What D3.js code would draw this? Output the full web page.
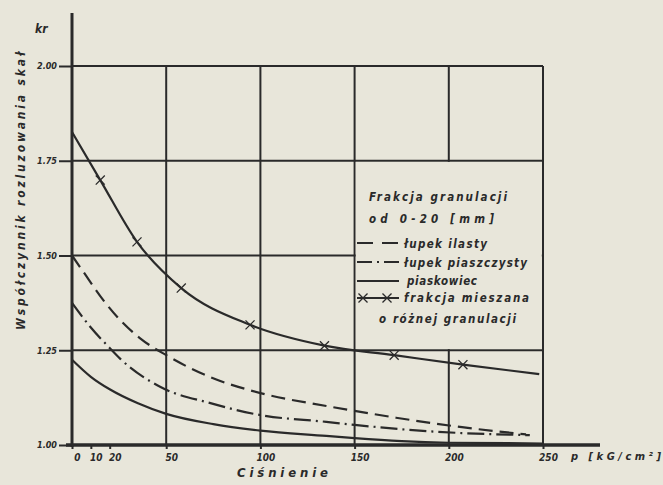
<!DOCTYPE html>
<html>
<head>
<meta charset="utf-8">
<script src="https://cdn.jsdelivr.net/npm/d3@7"></script>
<style>
  html, body { margin: 0; padding: 0; background: #e8e6da; }
  svg { display: block; }
  text { font-family: "DejaVu Sans Condensed", "DejaVu Sans", sans-serif; font-style: italic; font-weight: bold; fill: #2a2a2a; }
</style>
</head>
<body>
<div id="chart"></div>
<script>
// Values (pressure p in kG/cm2, coefficient kr)
const xTicks = [0, 10, 20, 50, 100, 150, 200, 250];
const xTickLabels = ['0', '10', '20', '50', '100', '150', '200', '250'];
const yTicks = [1.00, 1.25, 1.50, 1.75, 2.00];
const yTickLabels = ['1.00', '1.25', '1.50', '1.75', '2.00'];

// łupek ilasty (dashed)
const ilastyP = [0, 7, 16.5, 25.5, 36, 50, 73, 100, 135, 150, 172, 207, 241];
const ilastyK = [1.50, 1.45, 1.383, 1.33, 1.282, 1.237, 1.18, 1.137, 1.103, 1.090, 1.072, 1.047, 1.028];

// łupek piaszczysty (dash-dot)
const piaszczystyP = [0, 10, 20, 25.5, 47, 73, 100, 135, 150, 190, 243];
const piaszczystyK = [1.375, 1.31, 1.256, 1.228, 1.153, 1.111, 1.079, 1.061, 1.053, 1.036, 1.026];

// piaskowiec (solid)
const piaskowiecP = [0, 10, 20, 35, 50, 75, 100, 135, 150, 175, 200, 250];
const piaskowiecK = [1.225, 1.18, 1.147, 1.11, 1.082, 1.055, 1.038, 1.024, 1.018, 1.010, 1.006, 1.004];

// frakcja mieszana (solid with x marks), marks on inner points
const mieszanaP = [0, 15, 34.5, 58, 94.5, 134, 171, 207.5, 248];
const mieszanaK = [1.826, 1.699, 1.536, 1.414, 1.317, 1.262, 1.237, 1.212, 1.187];

const W = 663, H = 485;
const ink = '#2a2a2a';
const paper = '#e8e6da';

const svg = d3.select('#chart').append('svg')
    .attr('width', W)
    .attr('height', H);

svg.append('rect').attr('width', W).attr('height', H).attr('fill', paper);

const x = d3.scaleLinear().domain([0, 250]).range([72, 543]);
const y = d3.scaleLinear().domain([1, 2]).range([445, 66]);

// grid
const grid = svg.append('g').attr('stroke', ink).attr('stroke-width', 2);
[50, 100, 150, 200, 250].forEach(p => {
    grid.append('line')
        .attr('x1', x(p)).attr('x2', x(p))
        .attr('y1', y(1)).attr('y2', y(2));
});
[1.25, 1.5, 1.75, 2.0].forEach(k => {
    grid.append('line')
        .attr('x1', x(0)).attr('x2', x(250))
        .attr('y1', y(k)).attr('y2', y(k));
});

// legend panel hides the grid inside it
svg.append('rect')
    .attr('x', x(150) + 1.2).attr('y', y(1.75) + 1.2)
    .attr('width', x(250) - x(150) - 2.4)
    .attr('height', y(1.25) - y(1.75) - 2.4)
    .attr('fill', paper);

// axes
const xAxis = svg.append('g')
    .attr('transform', `translate(0,${y(1)})`)
    .call(d3.axisBottom(x).tickValues(xTicks)
        .tickFormat((d, i) => xTickLabels[i])
        .tickSize(4).tickPadding(5).tickSizeOuter(0));
xAxis.select('.domain').remove();
xAxis.selectAll('line').attr('stroke', ink).attr('stroke-width', 2);
xAxis.selectAll('text')
    .attr('dx', 5)
    .style('font-size', '10px')
    .attr('fill', ink);

const yAxis = svg.append('g')
    .attr('transform', `translate(${x(0)},0)`)
    .call(d3.axisLeft(y).tickValues(yTicks)
        .tickFormat((d, i) => yTickLabels[i])
        .tickSize(13).tickPadding(2).tickSizeOuter(0));
yAxis.select('.domain').remove();
yAxis.selectAll('line').attr('stroke', ink).attr('stroke-width', 2);
yAxis.selectAll('text')
    .style('font-size', '9px')
    .attr('fill', ink);

svg.append('line')
    .attr('x1', 66).attr('x2', 600)
    .attr('y1', y(1)).attr('y2', y(1))
    .attr('stroke', ink).attr('stroke-width', 3.5);
svg.append('line')
    .attr('x1', x(0)).attr('x2', x(0))
    .attr('y1', 13).attr('y2', y(1) + 2)
    .attr('stroke', ink).attr('stroke-width', 3);

// curves
const line = d3.line()
    .x(d => x(d[0]))
    .y(d => y(d[1]))
    .curve(d3.curveMonotoneX);

const zip = (ps, ks) => ps.map((p, i) => [p, ks[i]]);

const series = [
    { data: zip(ilastyP, ilastyK), dash: '14,7' },
    { data: zip(piaszczystyP, piaszczystyK), dash: '17,5,2,5' },
    { data: zip(piaskowiecP, piaskowiecK), dash: null },
    { data: zip(mieszanaP, mieszanaK), dash: null }
];

series.forEach(s => {
    svg.append('path')
        .datum(s.data)
        .attr('fill', 'none')
        .attr('stroke', ink)
        .attr('stroke-width', 2.2)
        .attr('stroke-dasharray', s.dash)
        .attr('d', line);
});

const cross = d3.symbol().type(d3.symbolTimes).size(55);
svg.selectAll('.mark')
    .data(zip(mieszanaP, mieszanaK).slice(1, -1))
    .enter()
    .append('path')
    .attr('class', 'mark')
    .attr('transform', d => `translate(${x(d[0])},${y(d[1])})`)
    .attr('d', cross)
    .attr('fill', ink)
    .attr('stroke', ink)
    .attr('stroke-width', 1.3);

// axis titles
svg.append('text')
    .attr('x', 35).attr('y', 33)
    .style('font-size', '12px')
    .text('kr');

svg.append('text')
    .attr('transform', 'translate(25,191) rotate(-90)')
    .attr('text-anchor', 'middle')
    .attr('textLength', 278)
    .attr('lengthAdjust', 'spacing')
    .style('font-size', '12px')
    .text('Współczynnik   rozluzowania   skał');

svg.append('text')
    .attr('x', 237).attr('y', 477)
    .attr('textLength', 91)
    .attr('lengthAdjust', 'spacing')
    .style('font-size', '13px')
    .text('Ciśnienie');

svg.append('text')
    .attr('x', 571).attr('y', 460)
    .attr('textLength', 90)
    .attr('lengthAdjust', 'spacing')
    .style('font-size', '11px')
    .text('p [kG/cm²]');

// legend
const legendText = [
    { t: 'Frakcja granulacji', x: 369, y: 201, len: 138 },
    { t: 'od  0-20 [mm]', x: 369, y: 223, len: 125 },
    { t: 'łupek ilasty', x: 404, y: 248, len: 83 },
    { t: 'łupek piaszczysty', x: 404, y: 267, len: 123 },
    { t: 'piaskowiec', x: 407, y: 285, len: 70 },
    { t: 'frakcja mieszana', x: 404, y: 302, len: 125 },
    { t: 'o różnej granulacji', x: 379, y: 323, len: 137 }
];
legendText.forEach(d => {
    svg.append('text')
        .attr('x', d.x).attr('y', d.y)
        .attr('textLength', d.len)
        .attr('lengthAdjust', 'spacing')
        .style('font-size', '11.5px')
        .text(d.t);
});

const legendLines = [
    { y: 243, dash: '16,9' },
    { y: 262, dash: '15,5,2,5' },
    { y: 281, dash: null },
    { y: 298, dash: null }
];
legendLines.forEach(d => {
    svg.append('line')
        .attr('x1', 357).attr('x2', 399)
        .attr('y1', d.y).attr('y2', d.y)
        .attr('stroke', ink).attr('stroke-width', 2)
        .attr('stroke-dasharray', d.dash);
});
[363, 387].forEach(cx => {
    svg.append('path')
        .attr('transform', `translate(${cx},298)`)
        .attr('d', cross)
        .attr('fill', ink).attr('stroke', ink).attr('stroke-width', 1.3);
});
</script>
</body>
</html>
